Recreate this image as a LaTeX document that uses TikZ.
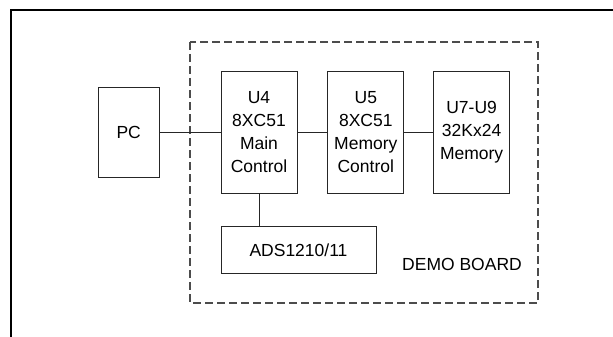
\documentclass[tikz,border=0pt]{standalone}
\usepackage{fontspec}
\setmainfont{Liberation Sans}
\usetikzlibrary{positioning}

\begin{document}
\begin{tikzpicture}[
    x=1pt, y=-1pt,
    node distance=30pt,
    box/.style={rectangle, draw=black!85, line width=0.8pt, minimum width=76pt, minimum height=122pt, align=center, inner sep=0pt, font=\fontsize{17.5}{23}\selectfont},
    wire/.style={line width=0.8pt, draw=black!85},
    board/.style={dashed, dash pattern=on 8pt off 4pt, line width=1.1pt, draw=black!70}
]
\useasboundingbox (0,0) rectangle (613,337);
\draw[line width=1.8pt] (11,337) -- (11,10) -- (613,10);
\draw[board] (190,42) rectangle (538,303);

\node[box] (u4) at (259,132) {U4\\8XC51\\Main\\Control};
\node[box, right=30pt of u4] (u5) {U5\\8XC51\\Memory\\Control};
\node[box, right=29pt of u5] (mem) {U7-U9\\32Kx24\\Memory};
\node[box, minimum width=61pt, minimum height=90pt, left=61pt of u4] (pc) {PC};
\node[box, minimum width=155pt, minimum height=47pt, below right=33pt and 0pt of u4.south west] (ads) {ADS1210/11};
\node[font=\fontsize{17.5}{23}\selectfont] (demo) at (462,264) {DEMO BOARD};

\draw[wire] (pc) -- (u4);
\draw[wire] (u4) -- (u5);
\draw[wire] (u5) -- (mem);
\draw[wire] (u4) -- (ads.north -| u4);
\end{tikzpicture}
\end{document}
